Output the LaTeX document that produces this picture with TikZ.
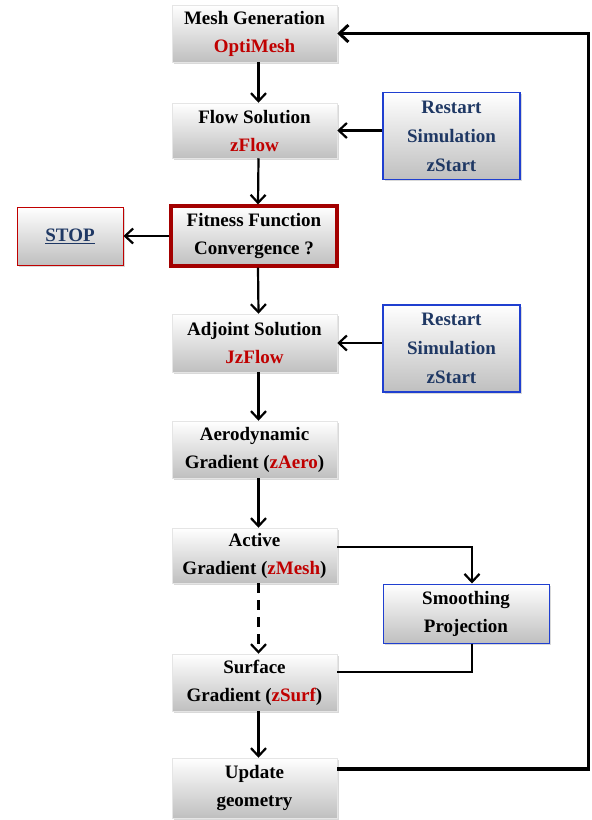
\documentclass[tikz,border=0pt]{standalone}
\usepackage{fontspec}
\setmainfont{Liberation Serif}
\usetikzlibrary{arrows.meta,shadows}
\definecolor{optred}{HTML}{C00000}
\definecolor{optnavy}{HTML}{1F3864}
\definecolor{optblue}{HTML}{1F3FD0}
\newcommand{\rd}[1]{\textcolor{optred}{#1}}
\tikzset{
  box/.style={top color=white, bottom color=gray!50, draw=gray!20, line width=0.5pt,
    drop shadow={shadow xshift=1.5pt, shadow yshift=-1.5pt, opacity=0.3},
    align=center, inner sep=0pt, font=\fontsize{19}{28}\selectfont\bfseries},
  mainbox/.style={box, minimum width=165pt, minimum height=57pt},
  restartbox/.style={box, draw=optblue, line width=1.8pt, minimum width=137pt, minimum height=87pt,
    text=optnavy, font=\fontsize{19}{29}\selectfont\bfseries},
  stopbox/.style={box, draw=optred, line width=1pt, minimum width=106pt, minimum height=58pt},
  fitbox/.style={box, draw=optred!85!black, line width=3.2pt, minimum width=166pt, minimum height=60pt},
  flow/.style={line width=2.2pt, -{Straight Barb[length=8pt,width=15pt,line width=2.2pt]}},
  loopline/.style={line width=3.4pt, -{Straight Barb[length=9pt,width=17pt,line width=3pt]}},
}

\begin{document}
\begin{tikzpicture}[x=1pt,y=-1pt]
  \useasboundingbox (0,0) rectangle (592,820);

  % main column
  \node[mainbox] (mesh) at (254.5, 33.5) {Mesh Generation\\\rd{OptiMesh}};
  \node[mainbox,minimum height=55pt] (flowsol) at (254.5,130.5) {Flow Solution\\\rd{zFlow}};
  \node[fitbox] (fit) at (254,236) {Fitness Function\\Convergence ?};
  \node[mainbox,minimum height=58pt] (adj) at (254.5,343) {Adjoint Solution\\\rd{JzFlow}};
  \node[mainbox] (aero) at (254.5,449.5) {Aerodynamic\\Gradient (\rd{zAero})};
  \node[mainbox,minimum height=55pt] (act) at (254.5,555.5) {Active\\Gradient (\rd{zMesh})};
  \node[mainbox] (surf) at (254.5,682.5) {Surface\\Gradient (\rd{zSurf})};
  \node[mainbox,minimum height=60pt] (upd) at (254.5,788) {Update\\geometry};

  % side boxes
  \node[stopbox] (stop) at (70,236) {\textcolor{optnavy}{\underline{STOP}}};
  \node[restartbox] (rst1) at (451.5,136) {Restart\\Simulation\\zStart};
  \node[restartbox] (rst2) at (451.5,348.5) {Restart\\Simulation\\zStart};
  \node[mainbox,draw=optblue,line width=1pt,minimum width=166pt,minimum height=59pt] (smooth)
    at (466,613.5) {Smoothing\\Projection};

  % connectors
  \draw[flow] ([xshift=4pt]mesh.south) -- ([xshift=4pt]flowsol.north);
  \draw[flow] ([xshift=4pt]flowsol.south) -- ([xshift=4pt]fit.north);
  \draw[flow] ([xshift=4pt]fit.south) -- ([xshift=4pt]adj.north);
  \draw[flow] ([xshift=4pt]adj.south) -- ([xshift=4pt]aero.north);
  \draw[flow] ([xshift=4pt]aero.south) -- ([xshift=4pt]act.north);
  \draw[flow,dash pattern=on 10pt off 7pt] ([xshift=4pt]act.south) -- ([xshift=4pt]surf.north);
  \draw[flow] ([xshift=4pt]surf.south) -- ([xshift=4pt]upd.north);
  \draw[flow] (fit) -- (stop);
  \draw[flow] (rst1.west |- flowsol.east) -- (flowsol.east);
  \draw[flow] (rst2.west |- adj.east) -- (adj.east);
  \draw[flow] ([yshift=8.5pt]act.east) -| ([xshift=6pt]smooth.north);
  \draw[line width=2.2pt] ([xshift=6pt]smooth.south) |- ([yshift=10.5pt]surf.east);

  % loop back to the mesh
  \draw[loopline] ([yshift=19pt]upd.east) -- ++(251,0) |- (mesh.east);
\end{tikzpicture}
\end{document}
